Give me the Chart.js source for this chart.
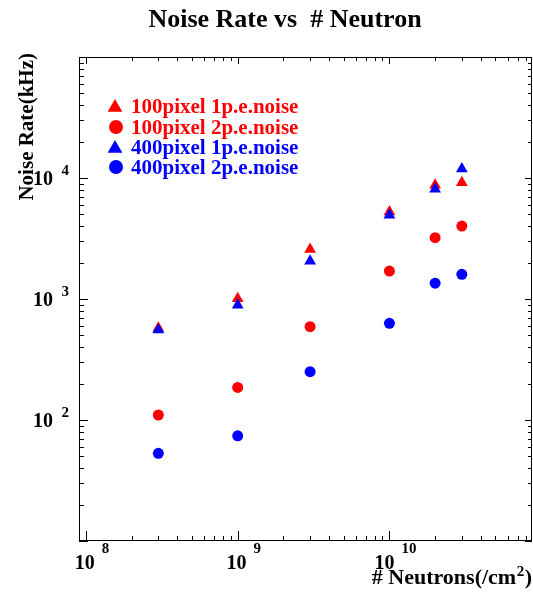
<!DOCTYPE html>
<html><head><meta charset="utf-8">
<script src="https://cdn.jsdelivr.net/npm/chart.js@4/dist/chart.umd.min.js"></script>
<style>html,body{margin:0;padding:0;background:#fff}canvas{display:block}</style>
</head><body>
<canvas id="c" width="533" height="599"></canvas>
<script>
// ---- data ----
const neutrons = [3e8, 1e9, 3e9, 1e10, 2e10, 3e10];
const px100_1pe = [575, 1010, 2575, 5260, 8750, 9150];
const px100_2pe = [110, 186, 590, 1700, 3210, 4010];
const px400_1pe = [555, 890, 2060, 4940, 8110, 11900];
const px400_2pe = [53, 74, 251, 630, 1350, 1600];
const seriesNames = ['100pixel 1p.e.noise', '100pixel 2p.e.noise', '400pixel 1p.e.noise', '400pixel 2p.e.noise'];
const xDecadeLabels = [8, 9, 10];
const yDecadeLabels = [2, 3, 4];
const xRange = [9e7, 8.7e10];
const yRange = [10, 1e5];
const titleText = 'Noise Rate vs  # Neutron';
const xTitleMain = '# Neutrons(/cm';
const xTitleSup = '2';
const xTitleEnd = ')';
const yTitleText = 'Noise Rate(kHz)';

const RED = '#ff0000', BLUE = '#0000ff';
const FONT = '"Liberation Serif", "Times New Roman", serif';

function pts(vals) { return neutrons.map((n, i) => ({x: n, y: vals[i]})); }

const seriesStyles = [
  {color: RED, style: 'triangle'},
  {color: RED, style: 'circle'},
  {color: BLUE, style: 'triangle'},
  {color: BLUE, style: 'circle'}
];

function drawMarker(ctx, style, cx, cy, r, color) {
  ctx.fillStyle = color;
  ctx.beginPath();
  if (style === 'circle') {
    ctx.arc(cx, cy, r, 0, Math.PI * 2);
  } else {
    const h = r * 1.5, w = r * Math.sqrt(3);
    ctx.moveTo(cx, cy - r);
    ctx.lineTo(cx + w / 2, cy - r + h);
    ctx.lineTo(cx - w / 2, cy - r + h);
    ctx.closePath();
  }
  ctx.fill();
}

const rootFrame = {
  id: 'rootFrame',
  afterDraw(chart) {
    const {ctx, chartArea: a} = chart;
    const x = chart.scales.x, y = chart.scales.y;
    ctx.save();
    ctx.strokeStyle = '#000';
    ctx.lineWidth = 1;
    ctx.strokeRect(a.left + 0.5, a.top + 0.5, a.right - a.left - 1, a.bottom - a.top - 1);
    ctx.beginPath();
    // x ticks (bottom and top)
    for (let d = 7; d <= 11; d++) {
      for (let k = 1; k <= 9; k++) {
        const v = k * Math.pow(10, d);
        if (v < x.min || v > x.max) continue;
        const p = Math.round(x.getPixelForValue(v)) + 0.5;
        const lb = k === 1 ? 10 : 5, lt = k === 1 ? 7 : 4;
        ctx.moveTo(p, a.bottom); ctx.lineTo(p, a.bottom - lb);
        ctx.moveTo(p, a.top); ctx.lineTo(p, a.top + lt);
      }
    }
    // y ticks (left and right)
    for (let d = 0; d <= 6; d++) {
      for (let k = 1; k <= 9; k++) {
        const v = k * Math.pow(10, d);
        if (v < y.min || v > y.max) continue;
        const p = Math.round(y.getPixelForValue(v)) + 0.5;
        const ll = k === 1 ? 9 : 5, lr = k === 1 ? 7 : 4;
        ctx.moveTo(a.left, p); ctx.lineTo(a.left + ll, p);
        ctx.moveTo(a.right, p); ctx.lineTo(a.right - lr, p);
      }
    }
    ctx.stroke();

    ctx.fillStyle = '#000';
    ctx.textBaseline = 'alphabetic';
    // x tick labels
    xDecadeLabels.forEach(d => {
      const p = x.getPixelForValue(Math.pow(10, d));
      ctx.font = 'bold 20px ' + FONT;
      const w10 = ctx.measureText('10').width;
      ctx.font = 'bold 15px ' + FONT;
      const we = ctx.measureText(String(d)).width;
      const gap = 7;
      const start = p + 6 - (w10 + gap + we) / 2;
      ctx.textAlign = 'left';
      ctx.font = 'bold 20px ' + FONT;
      ctx.fillText('10', start, 569);
      ctx.font = 'bold 15px ' + FONT;
      ctx.fillText(String(d), start + w10 + gap, 553);
    });
    // y tick labels
    yDecadeLabels.forEach(d => {
      const p = y.getPixelForValue(Math.pow(10, d));
      ctx.textAlign = 'right';
      ctx.font = 'bold 20px ' + FONT;
      ctx.fillText('10', 53, p + 7);
      ctx.font = 'bold 15px ' + FONT;
      ctx.fillText(String(d), 69, p - 3);
    });

    // title
    ctx.textAlign = 'center';
    ctx.font = 'bold 26px ' + FONT;
    ctx.fillText(titleText, 285, 27);

    // x axis title, right aligned
    ctx.textAlign = 'left';
    ctx.font = 'bold 22px ' + FONT;
    const wm = ctx.measureText(xTitleMain).width;
    const wend = ctx.measureText(xTitleEnd).width;
    ctx.font = 'bold 15px ' + FONT;
    const ws = ctx.measureText(xTitleSup).width;
    const xs = 532 - (wm + ws + wend + 1);
    ctx.font = 'bold 22px ' + FONT;
    ctx.fillText(xTitleMain, xs, 584);
    ctx.font = 'bold 15px ' + FONT;
    ctx.fillText(xTitleSup, xs + wm + 0.5, 576);
    ctx.font = 'bold 22px ' + FONT;
    ctx.fillText(xTitleEnd, xs + wm + ws + 1, 584);

    // y axis title
    ctx.save();
    ctx.translate(33, 53);
    ctx.rotate(-Math.PI / 2);
    ctx.textAlign = 'right';
    ctx.font = 'bold 21px ' + FONT;
    ctx.fillText(yTitleText, 0, 0);
    ctx.restore();

    // legend
    const rows = [106, 127, 147, 167];
    seriesNames.forEach((name, i) => {
      const s = seriesStyles[i];
      if (s.style === 'circle') drawMarker(ctx, 'circle', 116, rows[i], 7, s.color);
      else drawMarker(ctx, 'triangle', 115, rows[i] + 1.5, 8.5, s.color);
      ctx.fillStyle = s.color;
      ctx.font = 'bold 21px ' + FONT;
      ctx.textAlign = 'left';
      ctx.textBaseline = 'alphabetic';
      ctx.fillText(name, 131, rows[i] + 7);
    });
    ctx.restore();
  }
};

const makeDs = (label, vals, color, style, order) => ({
  label, data: pts(vals),
  backgroundColor: color, borderColor: color, borderWidth: 0,
  pointStyle: style, pointRadius: style === 'circle' ? 5.5 : 6.8,
  pointHoverRadius: style === 'circle' ? 5.5 : 6.8,
  showLine: false, order
});

new Chart(document.getElementById('c'), {
  type: 'scatter',
  data: {
    datasets: [
      makeDs(seriesNames[0], px100_1pe, RED, 'triangle', 2),
      makeDs(seriesNames[1], px100_2pe, RED, 'circle', 2),
      makeDs(seriesNames[2], px400_1pe, BLUE, 'triangle', 1),
      makeDs(seriesNames[3], px400_2pe, BLUE, 'circle', 1)
    ]
  },
  options: {
    responsive: false,
    animation: false,
    devicePixelRatio: 1,
    layout: {autoPadding: false, padding: {left: 79, top: 57, right: 1, bottom: 58}},
    plugins: {legend: {display: false}, title: {display: false}, tooltip: {enabled: false}},
    scales: {
      x: {type: 'logarithmic', min: xRange[0], max: xRange[1], display: false},
      y: {type: 'logarithmic', min: yRange[0], max: yRange[1], display: false}
    }
  },
  plugins: [rootFrame]
});
</script>
</body></html>
